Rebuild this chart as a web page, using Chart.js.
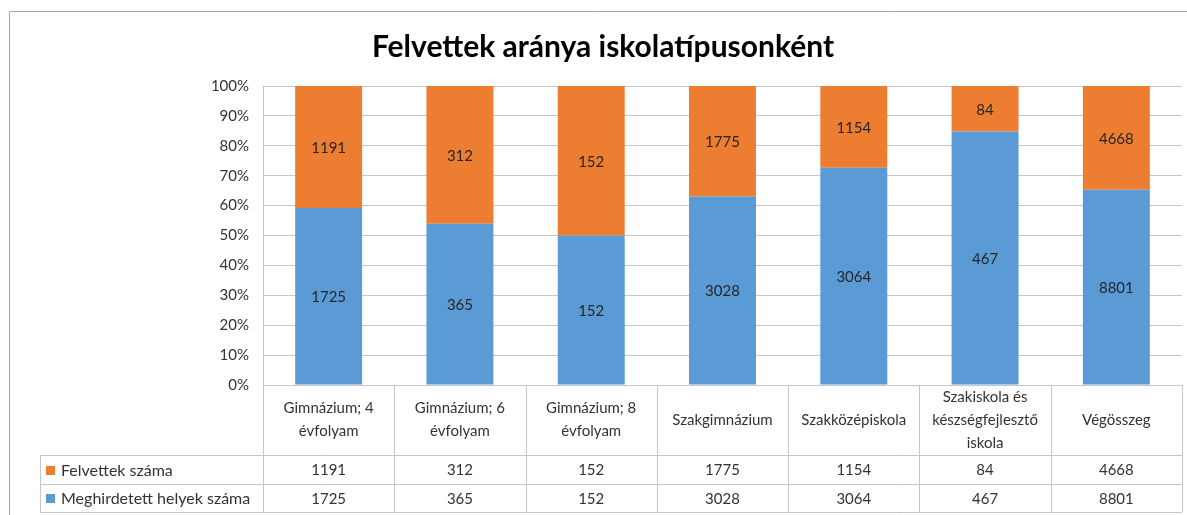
<!DOCTYPE html>
<html>
<head>
<meta charset="utf-8">
<script src="https://cdn.jsdelivr.net/npm/chart.js@4/dist/chart.umd.min.js"></script>
<style>
  html, body { margin: 0; background: #fff; }
</style>
</head>
<body>
<canvas id="c" width="1187" height="515"></canvas>
<script>
'use strict';

/* ── data ─────────────────────────────────────────── */
const categories = [
  ['Gimnázium; 4', 'évfolyam'],
  ['Gimnázium; 6', 'évfolyam'],
  ['Gimnázium; 8', 'évfolyam'],
  ['Szakgimnázium'],
  ['Szakközépiskola'],
  ['Szakiskola és', 'készségfejlesztő', 'iskola'],
  ['Végösszeg']
];
const felvettek    = [1191, 312, 152, 1775, 1154, 84, 4668];
const meghirdetett = [1725, 365, 152, 3028, 3064, 467, 8801];
const seriesNames  = ['Felvettek száma', 'Meghirdetett helyek száma'];

/* ── style ────────────────────────────────────────── */
const ORANGE = '#ED7D31';
const BLUE   = '#5B9BD5';
const GRID   = '#c6c6c6';
const FONT   = 'Lato, "Open Sans", sans-serif';
const TEXT   = '#333333';

// 100% stacked: share of each school type's total
const share = (a, b) => a.map((v, i) => v / (a[i] + b[i]) * 100);

/* ── plugins ──────────────────────────────────────── */
const frame = {
  id: 'frame',
  beforeDraw(chart) {
    const ctx = chart.ctx;
    ctx.save();
    ctx.fillStyle = '#fff';
    ctx.fillRect(0, 0, chart.width, chart.height);
    ctx.strokeStyle = '#a6a6a6';
    ctx.lineWidth = 1;
    ctx.beginPath();
    ctx.moveTo(9.5, chart.height);
    ctx.lineTo(9.5, 11.5);
    ctx.lineTo(chart.width, 11.5);
    ctx.stroke();
    ctx.restore();
  }
};

const barLabels = {
  id: 'barLabels',
  afterDatasetsDraw(chart) {
    const ctx = chart.ctx;
    ctx.save();
    ctx.font = '15px ' + FONT;
    ctx.fillStyle = '#262626';
    ctx.textAlign = 'center';
    ctx.textBaseline = 'middle';
    chart.data.datasets.forEach((ds, di) => {
      chart.getDatasetMeta(di).data.forEach((bar, i) => {
        const { x, y, base } = bar.getProps(['x', 'y', 'base'], true);
        ctx.fillText(ds.counts[i], x, (y + base) / 2 + 1);
      });
    });
    ctx.restore();
  }
};

const dataTable = {
  id: 'dataTable',
  afterDraw(chart) {
    const { ctx, chartArea: a, scales: { x } } = chart;
    const n = categories.length;
    const w = a.width / n;
    const top = a.bottom, r1 = 455, r2 = 484, bot = 512, legLeft = 40;
    const px = v => Math.round(v) + 0.5;

    ctx.save();
    ctx.strokeStyle = GRID;
    ctx.lineWidth = 1;
    ctx.beginPath();
    for (let i = 0; i <= n; i++) {
      ctx.moveTo(px(a.left + i * w), top);
      ctx.lineTo(px(a.left + i * w), bot);
    }
    ctx.moveTo(px(legLeft), r1); ctx.lineTo(px(legLeft), bot);
    [r1, r2, bot].forEach(y => { ctx.moveTo(legLeft, px(y)); ctx.lineTo(a.right, px(y)); });
    ctx.stroke();

    // header row: category names
    ctx.font = '15px ' + FONT;
    ctx.fillStyle = TEXT;
    ctx.textAlign = 'center';
    ctx.textBaseline = 'middle';
    const lineH = 23;
    categories.forEach((lines, i) => {
      const cx = x.getPixelForValue(i);
      const y0 = (top + r1) / 2 - (lines.length - 1) * lineH / 2;
      lines.forEach((t, k) => ctx.fillText(t, cx, y0 + k * lineH));
    });

    // value rows
    const rows = [
      { label: seriesNames[0], color: ORANGE, values: felvettek,    y: (r1 + r2) / 2 },
      { label: seriesNames[1], color: BLUE,   values: meghirdetett, y: (r2 + bot) / 2 }
    ];
    rows.forEach(r => {
      ctx.fillStyle = TEXT;
      ctx.textAlign = 'center';
      r.values.forEach((v, i) => ctx.fillText(v, x.getPixelForValue(i), r.y + 1));
      ctx.fillStyle = r.color;
      ctx.fillRect(46, Math.round(r.y) - 4, 9, 9);
      ctx.fillStyle = TEXT;
      ctx.textAlign = 'left';
      ctx.font = '16px ' + FONT;
      ctx.fillText(r.label, 61, r.y + 1);
      ctx.font = '15px ' + FONT;
    });
    ctx.restore();
  }
};

/* ── chart ────────────────────────────────────────── */
new Chart(document.getElementById('c'), {
  type: 'bar',
  data: {
    labels: categories.map(c => c.join(' ')),
    datasets: [
      { label: seriesNames[1], data: share(meghirdetett, felvettek), counts: meghirdetett, backgroundColor: BLUE },
      { label: seriesNames[0], data: share(felvettek, meghirdetett), counts: felvettek, backgroundColor: ORANGE }
    ]
  },
  options: {
    responsive: false,
    animation: false,
    devicePixelRatio: 1,
    layout: { padding: { left: 24, right: 5, top: 0, bottom: 122 } },
    datasets: { bar: { categoryPercentage: 1, barPercentage: 0.51 } },
    scales: {
      x: {
        stacked: true,
        grid: { display: false },
        border: { display: false },
        ticks: { display: false }
      },
      y: {
        stacked: true,
        min: 0, max: 100,
        afterFit: s => { s.width = 239; },
        grid: { color: GRID, drawTicks: false },
        border: { color: GRID },
        ticks: {
          stepSize: 10,
          padding: 14,
          color: TEXT,
          font: { family: FONT, size: 15 },
          callback: v => v + '%'
        }
      }
    },
    plugins: {
      legend: { display: false },
      tooltip: { enabled: false },
      title: {
        display: true,
        text: 'Felvettek aránya iskolatípusonként',
        color: '#000',
        font: { family: FONT, size: 30, weight: 'bold' },
        padding: { top: 29, bottom: 21 }
      }
    }
  },
  plugins: [frame, barLabels, dataTable]
});
</script>
</body>
</html>
